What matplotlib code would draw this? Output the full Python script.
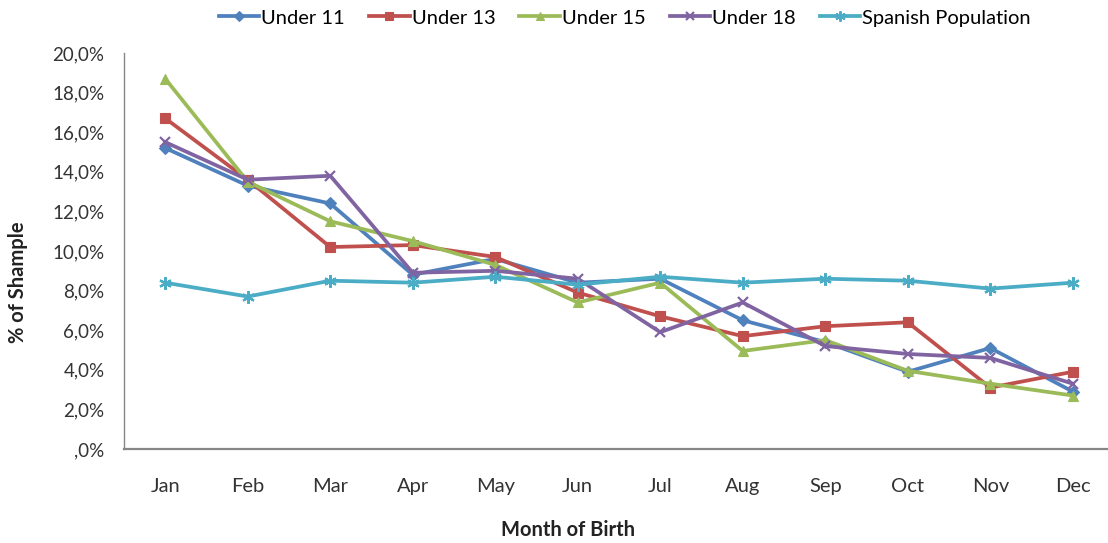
import matplotlib
matplotlib.use("Agg")
import matplotlib.pyplot as plt
from matplotlib.ticker import FuncFormatter, MultipleLocator

months = ["Jan", "Feb", "Mar", "Apr", "May", "Jun", "Jul", "Aug", "Sep", "Oct", "Nov", "Dec"]

under_11 = [15.2, 13.3, 12.4, 8.8, 9.6, 8.4, 8.6, 6.5, 5.4, 3.9, 5.1, 2.9]
under_13 = [16.7, 13.6, 10.2, 10.3, 9.7, 7.9, 6.7, 5.7, 6.2, 6.4, 3.1, 3.9]
under_15 = [18.7, 13.5, 11.5, 10.5, 9.3, 7.4, 8.4, 4.95, 5.5, 3.95, 3.3, 2.7]
under_18 = [15.5, 13.6, 13.8, 8.9, 9.0, 8.6, 5.9, 7.4, 5.2, 4.8, 4.6, 3.3]
spanish_population = [8.4, 7.7, 8.5, 8.4, 8.7, 8.3, 8.7, 8.4, 8.6, 8.5, 8.1, 8.4]

series = [
    ("Under 11", under_11, "#4F81BD", "D", 6),
    ("Under 13", under_13, "#C0504D", "s", 7),
    ("Under 15", under_15, "#9BBB59", "^", 7),
    ("Under 18", under_18, "#8064A2", "x", 7),
    ("Spanish Population", spanish_population, "#4BACC6", (6, 2, 0), 9),
]

plt.rcParams["font.family"] = ["Lato", "DejaVu Sans"]

fig = plt.figure(figsize=(11.08, 5.43), dpi=100)
ax = fig.add_axes([124 / 1108, 1 - 449 / 543, 990 / 1108, 396 / 543])

x = list(range(len(months)))
for name, vals, color, marker, ms in series:
    ax.plot(x, vals, color=color, lw=2.7, marker=marker, markersize=ms,
            markeredgewidth=1.6 if marker in ("x", (6, 2, 0)) else 0.8,
            markeredgecolor=color, markerfacecolor=color, label=name)

ax.set_xlim(-0.5, len(months) - 0.5)
ax.set_ylim(0, 20)
ax.yaxis.set_major_locator(MultipleLocator(2))


def pct(v, _):
    s = f"{v:.1f}".replace(".", ",")
    if s.startswith("0"):
        s = s[1:]
    return s + "%"


ax.yaxis.set_major_formatter(FuncFormatter(pct))
ax.set_xticks(x)
ax.set_xticklabels(months)

for side in ("top", "right"):
    ax.spines[side].set_visible(False)
ax.spines["left"].set_color("#868686")
ax.spines["bottom"].set_color("#868686")
ax.spines["left"].set_linewidth(1.0)
ax.spines["bottom"].set_linewidth(1.6)

ax.tick_params(axis="y", length=0, pad=14, labelsize=13.5, colors="#333333")
ax.tick_params(axis="x", length=0, pad=21, labelsize=14.5, colors="#333333")

fig.text(18 / 1108, 1 - 282 / 543, "% of Shample", rotation=90, ha="center", va="center",
         fontsize=14.5, fontweight="bold", color="#222222")
fig.text(568 / 1108, 1 - 530 / 543, "Month of Birth", ha="center", va="center",
         fontsize=14.5, fontweight="bold", color="#222222")

ax.legend(loc="center", bbox_to_anchor=(625 / 1108, 1 - 18 / 543), bbox_transform=fig.transFigure,
          ncol=5, frameon=False, fontsize=14.5, handlelength=2.0, handletextpad=0.1,
          columnspacing=1.2, markerscale=0.8)

fig.savefig("out.png", dpi=100)
